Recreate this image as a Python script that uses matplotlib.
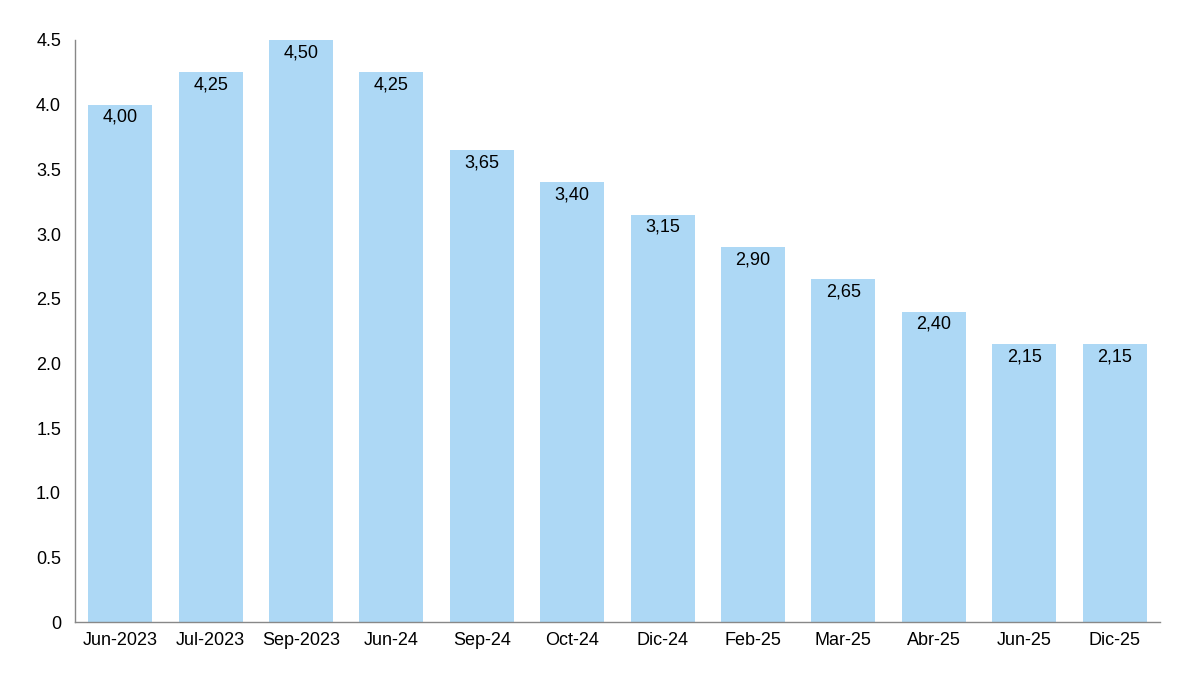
import matplotlib.pyplot as plt
from matplotlib.ticker import FuncFormatter

plt.rcParams['font.family'] = ['Liberation Sans', 'DejaVu Sans']

# Datos
categorias = ['Jun-2023', 'Jul-2023', 'Sep-2023', 'Jun-24', 'Sep-24', 'Oct-24',
              'Dic-24', 'Feb-25', 'Mar-25', 'Abr-25', 'Jun-25', 'Dic-25']
valores = [4.00, 4.25, 4.50, 4.25, 3.65, 3.40, 3.15, 2.90, 2.65, 2.40, 2.15, 2.15]

fig = plt.figure(figsize=(12, 7), dpi=100)
ax = fig.add_axes([0.0625, 0.111, 0.904, 0.832])

x = range(len(categorias))
bars = ax.bar(x, valores, width=0.71, color='#add8f5', edgecolor='none')

# Etiquetas dentro de las barras
for xi, v in zip(x, valores):
    ax.annotate(f'{v:.2f}'.replace('.', ','), (xi, v), xytext=(0, -3),
                textcoords='offset points', ha='center', va='top', fontsize=13)

ax.set_xlim(-0.5, len(categorias) - 0.5)
ax.set_ylim(0, 4.5)
ax.set_yticks([i * 0.5 for i in range(10)])
ax.yaxis.set_major_formatter(FuncFormatter(lambda v, p: '0' if v == 0 else f'{v:.1f}'))
ax.set_xticks(list(x))
ax.set_xticklabels(categorias)
ax.tick_params(length=0, labelsize=13, pad=7)
ax.tick_params(axis='y', pad=10)

for s in ['top', 'right']:
    ax.spines[s].set_visible(False)
for s in ['left', 'bottom']:
    ax.spines[s].set_color('#888888')
    ax.spines[s].set_linewidth(1)

fig.savefig('out.png')
